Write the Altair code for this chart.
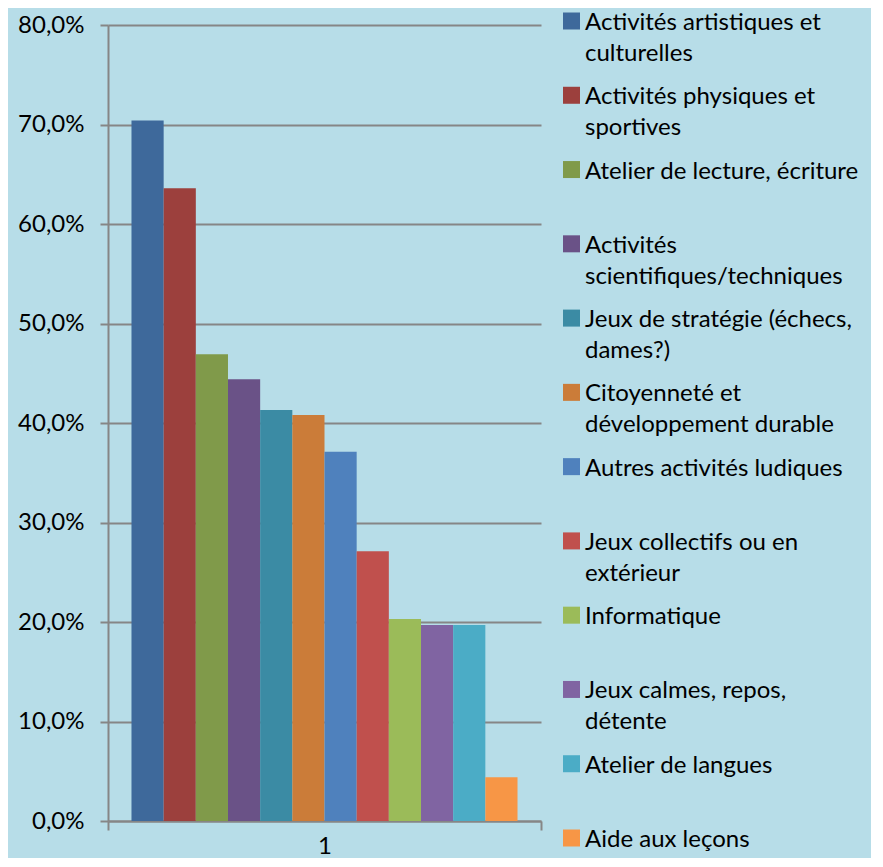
import altair as alt
import pandas as pd

activities = [
    "Activités artistiques et\nculturelles",
    "Activités physiques et\nsportives",
    "Atelier de lecture, écriture",
    "Activités\nscientifiques/techniques",
    "Jeux de stratégie (échecs,\ndames?)",
    "Citoyenneté et\ndéveloppement durable",
    "Autres activités ludiques",
    "Jeux collectifs ou en\nextérieur",
    "Informatique",
    "Jeux calmes, repos,\ndétente",
    "Atelier de langues",
    "Aide aux leçons",
]
values = [0.704, 0.636, 0.469, 0.444, 0.413, 0.408, 0.371, 0.271, 0.203, 0.197, 0.197, 0.044]
colors = ["#3E699B", "#9C403D", "#809A4A", "#6A5287", "#3B8BA4", "#CB7C39",
          "#4F81BD", "#C0504D", "#9BBB59", "#8064A2", "#4BACC6", "#F79646"]
category = "1"
y_ticks = [0, 0.1, 0.2, 0.3, 0.4, 0.5, 0.6, 0.7, 0.8]

df = pd.DataFrame({"activite": activities, "valeur": values, "groupe": [category] * len(activities)})

FONT = "Lato"
GRAY = "#868686"

color_scale = alt.Scale(domain=activities, range=colors)

bars = alt.Chart(df).mark_bar().encode(
    x=alt.X("groupe:N", title=None,
            scale=alt.Scale(paddingInner=0, paddingOuter=0),
            axis=alt.Axis(labelAngle=0, tickBand="extent", tickSize=9, tickWidth=2,
                          tickColor=GRAY, domainColor=GRAY, domainWidth=2,
                          labelFontSize=24, labelFont=FONT, labelColor="black",
                          labelPadding=4, grid=False)),
    xOffset=alt.XOffset("activite:N", sort=activities,
                        scale=alt.Scale(paddingOuter=0.73, paddingInner=0)),
    y=alt.Y("valeur:Q", title=None,
            scale=alt.Scale(domain=[0, 0.8], nice=False),
            axis=alt.Axis(values=y_ticks, grid=True, gridColor=GRAY, gridWidth=2,
                          tickSize=8, tickWidth=2, tickColor=GRAY,
                          domainColor=GRAY, domainWidth=2,
                          labelExpr="replace(format(datum.value, '.1%'), '.', ',')",
                          labelFontSize=24, labelFont=FONT, labelColor="black",
                          labelPadding=16)),
    color=alt.Color("activite:N", scale=color_scale, legend=None),
).properties(width=433, height=796)

leg_scale = alt.Scale(type="point", range=[-4, 813], padding=0)

leg_sym = alt.Chart(df).mark_square(size=289, opacity=1).encode(
    x=alt.value(30.5),
    y=alt.Y("activite:N", sort=activities, axis=None, scale=leg_scale),
    color=alt.Color("activite:N", scale=color_scale, legend=None),
)
leg_txt = alt.Chart(df).mark_text(
    align="left", baseline="top", dy=-10, lineBreak="\n", lineHeight=31,
    font=FONT, fontSize=24, color="black",
).encode(
    x=alt.value(44),
    y=alt.Y("activite:N", sort=activities, axis=None, scale=leg_scale),
    text="activite:N",
)
legend = alt.layer(leg_sym, leg_txt).properties(width=330, height=796)

chart = alt.hconcat(bars, legend, spacing=0, bounds="flush").configure(
    background="#B7DDE8",
    padding={"left": 9, "top": 3, "right": 0, "bottom": 0},
).configure_view(stroke=None)

chart.save("out.html", embed_options={"renderer": "svg", "actions": False})
